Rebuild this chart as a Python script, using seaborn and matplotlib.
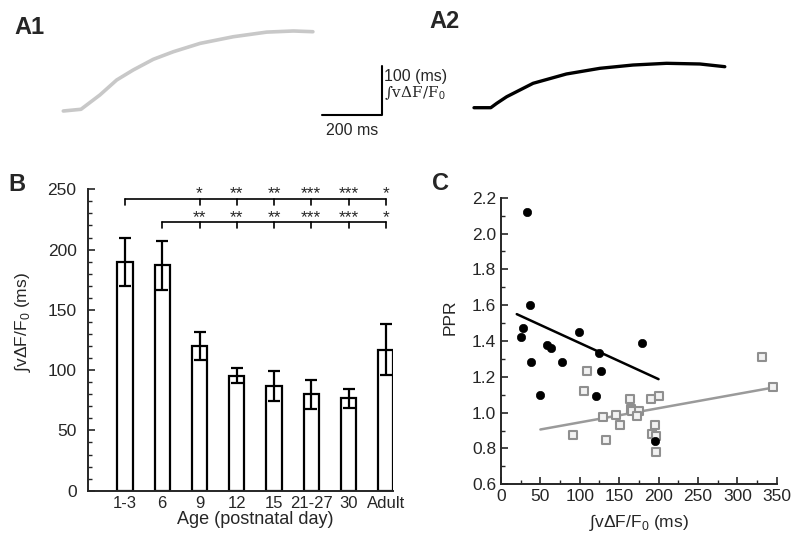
import numpy as np
import pandas as pd
import seaborn as sns
import matplotlib.pyplot as plt

# данные: кривые A1 / A2 (время, мс; интеграл, мс)
a1_t = [0, 59, 122, 178, 233, 300, 367, 456, 567, 678, 767, 832]
a1_v = [0, 3.5, 32.7, 63.3, 83.7, 105.5, 121, 138, 151.6, 161, 163.3, 161.8]
a2_t = [0, 56, 76, 109, 197, 308, 420, 530, 642, 753, 836]
a2_v = [0, 0, 9, 22.4, 49.8, 68.8, 80.4, 87.1, 90.6, 89.2, 83.7]

# панель B
ages = ['1-3', '6', '9', '12', '15', '21-27', '30', 'Adult']
means = [190, 187, 120, 95.5, 87, 80, 76.5, 117]
sems = [20, 20.5, 12, 6.5, 12.5, 12, 8, 21]
sig_vs_13 = ['*', '**', '**', '***', '***', '*']
sig_vs_6 = ['**', '**', '**', '***', '***', '*']

# панель C
young_x = [33, 37, 27.5, 25, 59, 63.5, 99.5, 125, 178.5, 38, 77, 127, 49.5, 120, 195]
young_y = [2.12, 1.60, 1.47, 1.42, 1.38, 1.36, 1.45, 1.335, 1.39, 1.285, 1.285, 1.23, 1.10, 1.095, 0.84]
adult_x = [108.7, 105.7, 163.7, 191, 201, 164.6, 166, 175, 172.6, 145.5, 129.4, 150.6, 195.8,
           91.8, 132.8, 192, 196.3, 196.3, 330.8, 344.8]
adult_y = [1.235, 1.12, 1.077, 1.077, 1.094, 1.023, 1.008, 1.012, 0.982, 0.986, 0.975, 0.932, 0.932,
           0.878, 0.845, 0.882, 0.869, 0.779, 1.312, 1.144]
fit_young_x = [20, 200]
fit_young_y = [1.55, 1.187]
fit_adult_x = [50, 348]
fit_adult_y = [0.906, 1.142]

sns.set_style('ticks')
plt.rcParams['font.family'] = ['Liberation Sans', 'DejaVu Sans']
plt.rcParams['mathtext.fontset'] = 'custom'
plt.rcParams['mathtext.rm'] = 'Liberation Sans'

fig = plt.figure(figsize=(8, 5.42), dpi=100)
W, H = 800, 542

# --- верхняя часть: кривые ---
ax_a = fig.add_axes([0, 1 - 145 / H, 1, 145 / H])
ms_per_px = 10 / 3
u_per_px = 1 / 0.49
ax_a.set_xlim(0, W * ms_per_px)
ax_a.set_ylim(-(145 - 111) * u_per_px, 111 * u_per_px)
ax_a.axis('off')
a1_off = 63.3 * ms_per_px
a2_off = 474 * ms_per_px
a2_yoff = 3.3 * u_per_px
sns.lineplot(x=np.array(a1_t) + a1_off, y=a1_v, ax=ax_a, color='#c8c8c8', lw=2.6)
sns.lineplot(x=np.array(a2_t) + a2_off, y=np.array(a2_v) + a2_yoff, ax=ax_a, color='black', lw=2.4)
# масштабная линейка
sx0 = 321.7 * ms_per_px
sy0 = -(115 - 111) * u_per_px
ax_a.plot([sx0, sx0 + 200, sx0 + 200], [sy0, sy0, sy0 + 100], color='black', lw=1.5)
ax_a.text(sx0 + 100, sy0 - 8 * u_per_px, '200 ms', ha='center', va='top', fontsize=11.5)
ax_a.text(sx0 + 200 + 2.5 * ms_per_px, sy0 + 100 - 3 * u_per_px, '100 (ms)', ha='left', va='top', fontsize=11.5)
ax_a.text(sx0 + 200 + 2.5 * ms_per_px, sy0 + 100 - 18 * u_per_px, '∫vΔF/F$_0$', ha='left', va='top',
          fontsize=11, family='DejaVu Serif')
fig.text(14 / W, 1 - 27 / H, 'A1', fontsize=17, weight='bold', va='center')
fig.text(429 / W, 1 - 22 / H, 'A2', fontsize=17, weight='bold', va='center')

# --- панель B ---
ax_b = fig.add_axes([87.7 / W, 1 - 490.7 / H, (393.3 - 87.7) / W, (490.7 - 189.3) / H])
df_b = pd.DataFrame({'age': ages, 'val': means})
sns.barplot(data=df_b, x='age', y='val', ax=ax_b, color='white', edgecolor='black',
            linewidth=1.6, width=0.41, errorbar=None)
ax_b.errorbar(range(len(ages)), means, yerr=sems, fmt='none', ecolor='black', elinewidth=1.6,
              capsize=4, capthick=1.6)
ax_b.set_xlim(-1, 7.2)
ax_b.set_ylim(0, 250)
ax_b.set_yticks(range(0, 251, 50))
ax_b.set_yticks(range(0, 251, 10), minor=True)
ax_b.tick_params(axis='y', direction='in', length=5, width=1.2, labelsize=12.5, pad=8)
ax_b.tick_params(axis='y', which='minor', direction='in', length=3, width=1)
ax_b.tick_params(axis='x', length=0, labelsize=12, pad=4)
ax_b.set_xlabel('Age (postnatal day)', fontsize=13)
ax_b.set_ylabel('∫vΔF/F$_0$ (ms)', fontsize=12.5)
ax_b.xaxis.set_label_coords(0.547, -0.068)
ax_b.yaxis.set_label_coords(-0.179, 0.558)
for s in ['top', 'right']:
    ax_b.spines[s].set_visible(False)
for s in ['left', 'bottom']:
    ax_b.spines[s].set_linewidth(1.4)
# скобки значимости
for start, level, stars in [(0, 242, sig_vs_13), (1, 222.6, sig_vs_6)]:
    ax_b.plot([start, 7], [level, level], color='black', lw=1.2)
    ax_b.plot([start, start], [level, level - 5], color='black', lw=1.2)
    for i, st in enumerate(stars):
        xi = 2 + i
        ax_b.plot([xi, xi], [level, level - 5], color='black', lw=1.2)
        ax_b.text(xi, level - 2, st, ha='center', va='bottom', fontsize=12.5)
fig.text(8 / W, 1 - 184 / H, 'B', fontsize=17, weight='bold', va='center')

# --- панель C ---
ax_c = fig.add_axes([501 / W, 1 - 484.3 / H, (776.7 - 501) / W, (484.3 - 197.7) / H])
sns.lineplot(x=fit_young_x, y=fit_young_y, ax=ax_c, color='black', lw=1.8)
sns.lineplot(x=fit_adult_x, y=fit_adult_y, ax=ax_c, color='#9a9a9a', lw=1.8)
sns.scatterplot(x=adult_x, y=adult_y, ax=ax_c, marker='s', s=28, facecolor='#f2f2f2',
                edgecolor='#8f8f8f', linewidth=1.5, zorder=3)
sns.scatterplot(x=young_x, y=young_y, ax=ax_c, marker='o', s=36, color='black',
                edgecolor='black', zorder=4)
ax_c.set_xlim(0, 350)
ax_c.set_ylim(0.6, 2.2)
ax_c.set_xticks(range(0, 351, 50))
ax_c.set_xticks(range(0, 351, 25), minor=True)
ax_c.set_yticks(np.arange(0.6, 2.21, 0.2))
ax_c.set_yticks(np.arange(0.6, 2.21, 0.1), minor=True)
ax_c.set_yticklabels([f'{v:.1f}' for v in np.arange(0.6, 2.21, 0.2)])
ax_c.tick_params(direction='in', length=5, width=1.2, labelsize=12.5)
ax_c.tick_params(which='minor', direction='in', length=3, width=1)
ax_c.set_xlabel('∫vΔF/F$_0$ (ms)', fontsize=12.5, labelpad=6)
ax_c.set_ylabel('PPR', fontsize=12.5)
ax_c.yaxis.set_label_coords(-0.156, 0.582)
for s in ['top', 'right']:
    ax_c.spines[s].set_visible(False)
for s in ['left', 'bottom']:
    ax_c.spines[s].set_linewidth(1.4)
fig.text(432 / W, 1 - 183 / H, 'C', fontsize=17, weight='bold', va='center')

fig.savefig('out.png', dpi=100)
